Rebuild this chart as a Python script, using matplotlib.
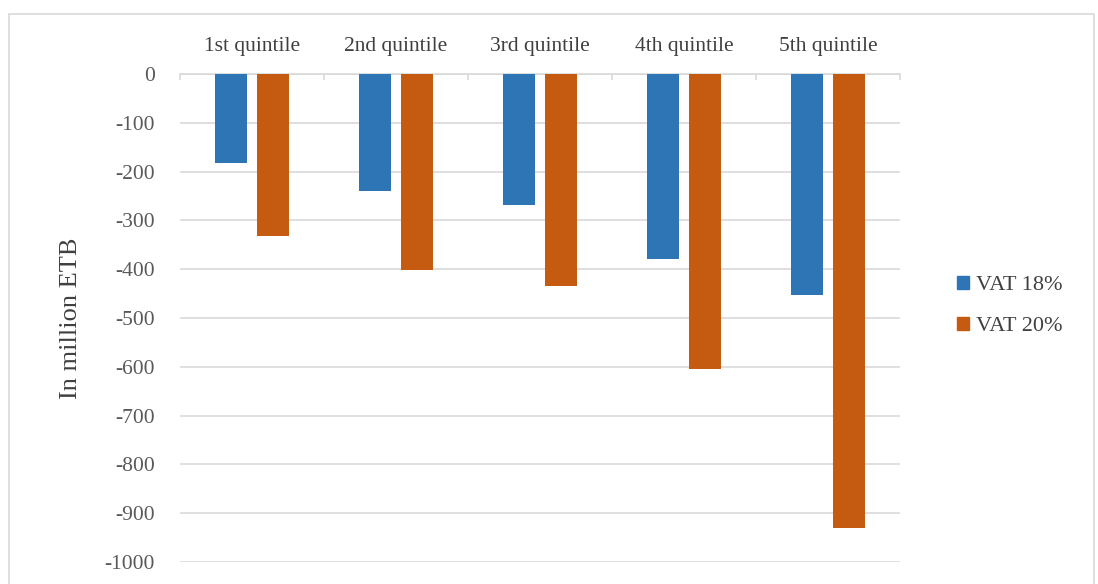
import matplotlib
matplotlib.use("Agg")
import matplotlib.pyplot as plt
import numpy as np
from matplotlib.patches import Rectangle, Patch

categories = ["1st quintile", "2nd quintile", "3rd quintile", "4th quintile", "5th quintile"]
vat18 = [-182, -240, -268, -379, -453]
vat20 = [-332, -402, -434, -605, -930]
series_names = ["VAT 18%", "VAT 20%"]
yticks = list(range(0, -1001, -100))

plt.rcParams['font.family'] = ['Liberation Serif', 'DejaVu Serif']

fig = plt.figure(figsize=(10.98, 5.84), dpi=100)
ax = fig.add_axes([180/1098, 1-562/584, 720/1098, (562-74)/584])

x = np.arange(len(categories))
w = 0.223
off = 0.144
c1 = "#2E75B6"
c2 = "#C55A11"
ax.bar(x - off, vat18, width=w, color=c1, zorder=3)
ax.bar(x + off, vat20, width=w, color=c2, zorder=3)

ax.set_xlim(-0.5, len(categories) - 0.5)
ax.set_ylim(-1000, 0)
ax.set_yticks(yticks)
ax.set_yticklabels([str(v) for v in yticks])
ax.yaxis.grid(True, color="#D9D9D9", linewidth=1.2, zorder=0)
ax.set_axisbelow(True)
for s in ["left", "right", "bottom"]:
    ax.spines[s].set_visible(False)
ax.spines["top"].set_color("#D9D9D9")
ax.spines["top"].set_linewidth(1.2)

ax.xaxis.tick_top()
ax.set_xticks(x)
ax.set_xticklabels(categories, fontsize=15.5, color="#404040")
ax.tick_params(axis="x", length=0, pad=13)
ax.set_xticks(np.arange(-0.5, len(categories)), minor=True)
ax.tick_params(axis="x", which="minor", top=True, direction="in", length=4, color="#D9D9D9", width=1.2)
ax.tick_params(axis="y", length=0, pad=18, labelsize=15.5, labelcolor="#595959")

ax.set_ylabel("In million ETB", fontsize=19, color="#404040", labelpad=16)

handles = [Patch(color=c1), Patch(color=c2)]
fig.legend(handles, series_names, loc="center left", bbox_to_anchor=(937/1098, 1-306/584),
           frameon=False, fontsize=16, handlelength=0.55, handleheight=0.55, handletextpad=0.3,
           labelspacing=0.95, labelcolor="#404040")

fig.patches.append(Rectangle((9/1098, -0.01), (1094-9)/1098, 1-14/584 + 0.01, transform=fig.transFigure,
                             fill=False, edgecolor="#D9D9D9", linewidth=1.2))

fig.savefig("out.png", dpi=100)
